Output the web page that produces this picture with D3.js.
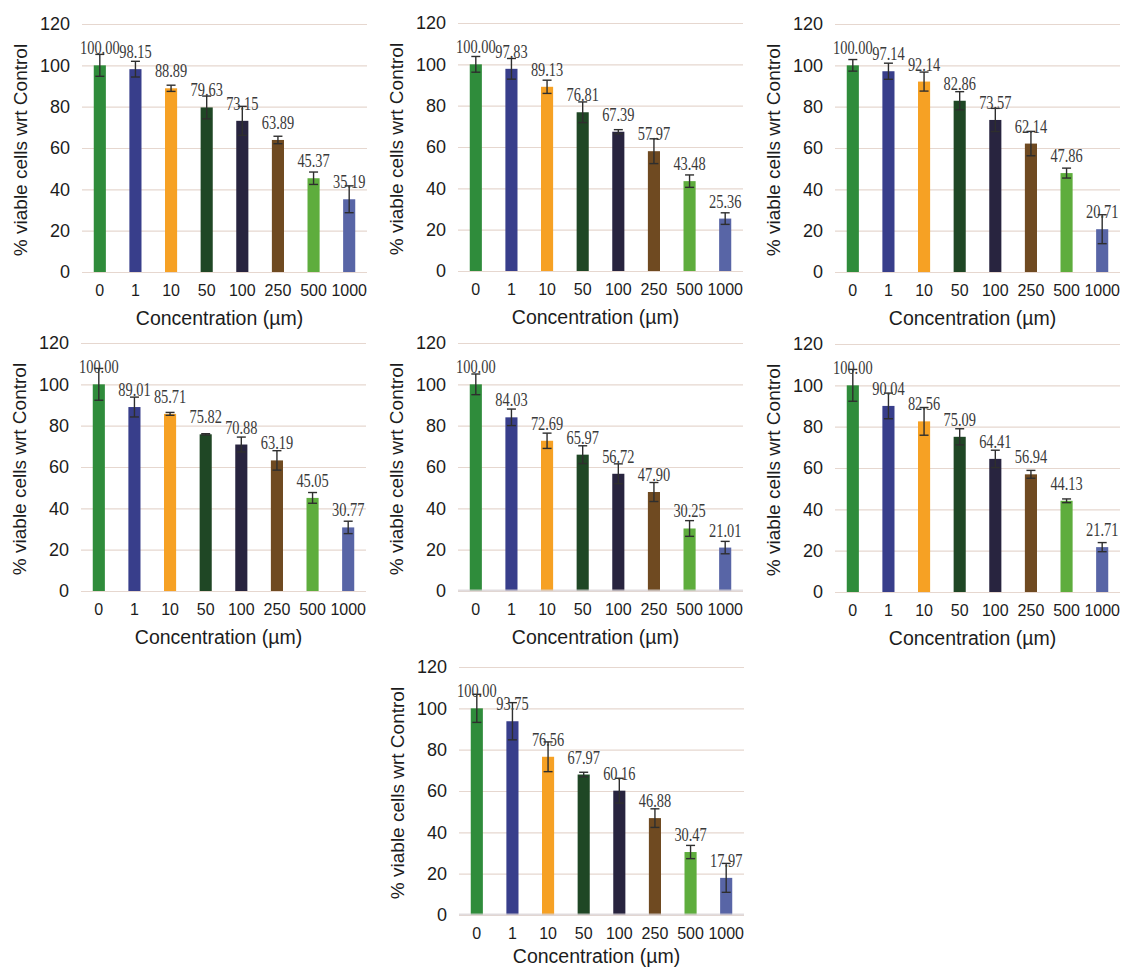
<!DOCTYPE html>
<html>
<head>
<meta charset="utf-8">
<script src="https://cdn.jsdelivr.net/npm/d3@7"></script>
<style>
  body { margin: 0; background: #fff; }
  svg { display: block; }
</style>
</head>
<body>
<svg width="1121" height="970"></svg>
<script>
var concentrations = ["0", "1", "10", "50", "100", "250", "500", "1000"];
var barColors = ["#2f8c3b", "#383e8b", "#f6a124", "#1f4725", "#28243f", "#6f4a21", "#5ead3d", "#5865a6"];
var yTicks = [0, 20, 40, 60, 80, 100, 120];

// mean values per panel
var means1 = [100.00, 98.15, 88.89, 79.63, 73.15, 63.89, 45.37, 35.19];
var means2 = [100.00, 97.83, 89.13, 76.81, 67.39, 57.97, 43.48, 25.36];
var means3 = [100.00, 97.14, 92.14, 82.86, 73.57, 62.14, 47.86, 20.71];
var means4 = [100.00, 89.01, 85.71, 75.82, 70.88, 63.19, 45.05, 30.77];
var means5 = [100.00, 84.03, 72.69, 65.97, 56.72, 47.90, 30.25, 21.01];
var means6 = [100.00, 90.04, 82.56, 75.09, 64.41, 56.94, 44.13, 21.71];
var means7 = [100.00, 93.75, 76.56, 67.97, 60.16, 46.88, 30.47, 17.97];

// error bar half-lengths (estimated)
var errs1 = [5.3, 3.8, 1.5, 5.5, 7.0, 1.8, 3.0, 6.5];
var errs2 = [3.8, 5.0, 3.2, 5.0, 1.0, 6.0, 3.0, 2.8];
var errs3 = [2.8, 3.9, 4.6, 4.4, 5.6, 5.9, 2.4, 7.0];
var errs4 = [7.7, 4.8, 0.7, 0.3, 3.6, 4.7, 2.6, 3.0];
var errs5 = [5.0, 4.0, 3.7, 4.3, 4.8, 4.6, 3.8, 3.0];
var errs6 = [7.7, 6.2, 6.7, 3.9, 4.2, 1.9, 0.9, 2.2];
var errs7 = [6.8, 9.0, 7.2, 1.1, 6.0, 4.5, 3.2, 7.0];

var svg = d3.select("svg"),
    plotW = 285,
    plotH = 248;

var panels = [
    {x: 82,  y: 24,  means: means1, errs: errs1, baseTop: false, titleDy: 53},
    {x: 458, y: 23,  means: means2, errs: errs2, baseTop: false, titleDy: 53},
    {x: 835, y: 24,  means: means3, errs: errs3, baseTop: false, titleDy: 53},
    {x: 81,  y: 343, means: means4, errs: errs4, baseTop: false, titleDy: 53},
    {x: 458, y: 343, means: means5, errs: errs5, baseTop: true,  titleDy: 53},
    {x: 835, y: 344, means: means6, errs: errs6, baseTop: false, titleDy: 53},
    {x: 459, y: 667, means: means7, errs: errs7, baseTop: true,  titleDy: 48}
];

var xScale = d3.scaleBand().domain(concentrations).range([0, plotW]).paddingInner(0.66).paddingOuter(0.33);
var yScale = d3.scaleLinear().domain([0, 120]).range([plotH, 0]);

panels.forEach(function (p) {
    var g = svg.append("g").attr("transform", "translate(" + p.x + "," + p.y + ")");
    var data = concentrations.map(function (c, i) {
        return {c: c, v: p.means[i], e: p.errs[i], color: barColors[i]};
    });

    // gridlines
    g.append("g").selectAll("line")
        .data(yTicks)
        .enter().append("line")
        .attr("x1", 0).attr("x2", plotW)
        .attr("y1", function (d) { return yScale(d) + 0.5; })
        .attr("y2", function (d) { return yScale(d) + 0.5; })
        .attr("stroke", "#e6d7cf")
        .attr("stroke-width", 1.2);

    // y tick labels
    g.append("g").selectAll("text")
        .data(yTicks)
        .enter().append("text")
        .attr("x", -12)
        .attr("y", function (d) { return yScale(d); })
        .attr("dy", "0.35em")
        .attr("text-anchor", "end")
        .attr("font-family", "Liberation Sans, Arial, sans-serif")
        .attr("font-size", 18)
        .attr("fill", "#1c1c1c")
        .text(function (d) { return d; });

    // bars
    g.append("g").selectAll("rect")
        .data(data)
        .enter().append("rect")
        .attr("x", function (d) { return xScale(d.c); })
        .attr("y", function (d) { return yScale(d.v); })
        .attr("width", xScale.bandwidth())
        .attr("height", function (d) { return plotH - yScale(d.v); })
        .attr("fill", function (d) { return d.color; });

    if (p.baseTop) {
        g.append("line")
            .attr("x1", 0).attr("x2", plotW)
            .attr("y1", plotH - 0.5).attr("y2", plotH - 0.5)
            .attr("stroke", "#d9d3d6")
            .attr("stroke-opacity", 0.8)
            .attr("stroke-width", 2);
    }

    // error bars
    var eb = g.append("g").selectAll("g")
        .data(data)
        .enter().append("g")
        .attr("stroke", "#2e2e2e")
        .attr("stroke-width", 1.4);
    eb.append("line")
        .attr("x1", function (d) { return xScale(d.c) + xScale.bandwidth() / 2; })
        .attr("x2", function (d) { return xScale(d.c) + xScale.bandwidth() / 2; })
        .attr("y1", function (d) { return yScale(d.v + d.e); })
        .attr("y2", function (d) { return yScale(d.v - d.e); });
    [1, -1].forEach(function (s) {
        eb.append("line")
            .attr("x1", function (d) { return xScale(d.c) + xScale.bandwidth() / 2 - 4.5; })
            .attr("x2", function (d) { return xScale(d.c) + xScale.bandwidth() / 2 + 4.5; })
            .attr("y1", function (d) { return yScale(d.v + s * d.e); })
            .attr("y2", function (d) { return yScale(d.v + s * d.e); });
    });

    // value labels
    g.append("g").selectAll("text")
        .data(data)
        .enter().append("text")
        .attr("transform", function (d) {
            return "translate(" + (xScale(d.c) + xScale.bandwidth() / 2) + "," + (yScale(d.v) - 11) + ") scale(0.8,1.1)";
        })
        .attr("text-anchor", "middle")
        .attr("font-family", "Liberation Serif, Times New Roman, serif")
        .attr("font-size", 18)
        .attr("fill", "#3a3a3a")
        .text(function (d) { return d.v.toFixed(2); });

    // x tick labels
    g.append("g").selectAll("text")
        .data(concentrations)
        .enter().append("text")
        .attr("x", function (d) { return xScale(d) + xScale.bandwidth() / 2; })
        .attr("y", plotH + 24)
        .attr("text-anchor", "middle")
        .attr("font-family", "Liberation Sans, Arial, sans-serif")
        .attr("font-size", 16)
        .attr("fill", "#1c1c1c")
        .text(function (d) { return d; });

    // axis titles
    g.append("text")
        .attr("x", plotW / 2 - 5)
        .attr("y", plotH + p.titleDy)
        .attr("text-anchor", "middle")
        .attr("font-family", "Liberation Sans, Arial, sans-serif")
        .attr("font-size", 19.5)
        .attr("fill", "#1c1c1c")
        .text("Concentration (\u00b5m)");

    g.append("text")
        .attr("transform", "translate(-55," + (plotH / 2 + 2) + ") rotate(-90)")
        .attr("text-anchor", "middle")
        .attr("font-family", "Liberation Sans, Arial, sans-serif")
        .attr("font-size", 19)
        .attr("fill", "#1c1c1c")
        .text("% viable cells wrt Control");
});
</script>
</body>
</html>
